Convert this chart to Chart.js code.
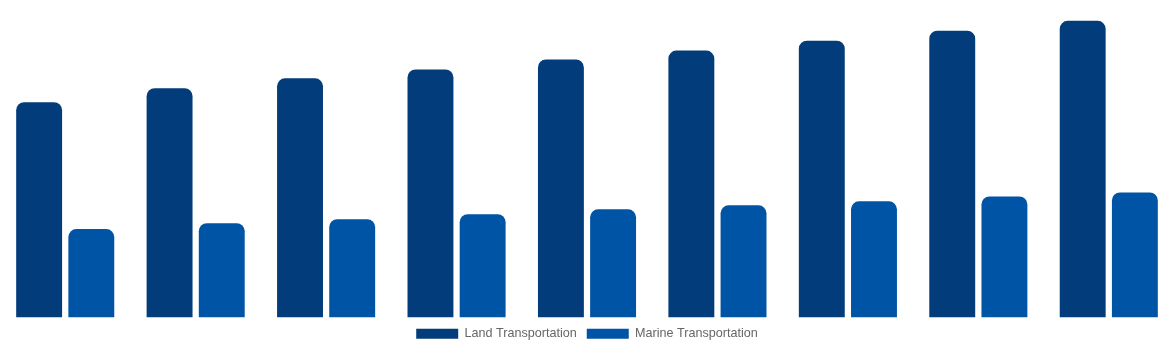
<!DOCTYPE html>
<html>
<head>
<meta charset="utf-8">
<script src="https://cdn.jsdelivr.net/npm/chart.js@4/dist/chart.umd.min.js"></script>
<style>
  body { margin: 0; background: #fff; }
  #wrap { width: 1174px; height: 350px; }
</style>
</head>
<body>
<div id="wrap"><canvas id="myChart"></canvas></div>
<script>
// values (arbitrary units, axis hidden)
const categories = ["1", "2", "3", "4", "5", "6", "7", "8", "9"];
const landValues = [217, 231, 241, 250, 260, 269, 279, 289, 299];
const marineValues = [89, 95, 99, 104, 109, 113, 117, 122, 126];

const ctx = document.getElementById("myChart").getContext("2d");
new Chart(ctx, {
    type: "bar",
    data: {
        labels: categories,
        datasets: [
            {
                label: "Land Transportation",
                backgroundColor: 'rgb(3,60,122)',
                data: landValues,
                borderRadius: { topLeft: 8, topRight: 8 },
                borderSkipped: false,
            },
            {
                label: "Marine Transportation",
                backgroundColor: 'rgb(0,84,166)',
                data: marineValues,
                borderRadius: { topLeft: 8, topRight: 8 },
                borderSkipped: false,
            }
        ]
    },
    options: {
        responsive: true,
        maintainAspectRatio: false,
        animation: false,
        layout: { padding: 0 },
        datasets: {
            bar: { categoryPercentage: 0.8, barPercentage: 0.88 }
        },
        scales: {
            x: { display: false },
            y: { display: false, min: 0, max: 320 }
        },
        plugins: {
            tooltip: { enabled: false },
            legend: {
                position: "bottom",
                labels: {
                    boxWidth: 42,
                    boxHeight: 10,
                    padding: 10,
                    color: "#666",
                    font: { family: "'Helvetica Neue', Helvetica, Arial, sans-serif", size: 12.6 }
                }
            }
        }
    }
});
</script>
</body>
</html>
